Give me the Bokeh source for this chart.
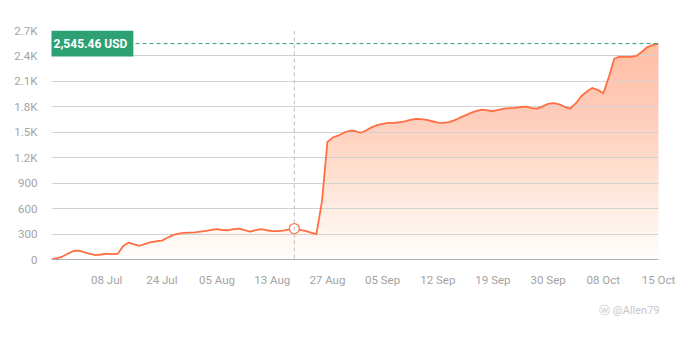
import numpy as np
from bokeh.plotting import figure
from bokeh.models import Range1d, FixedTicker, Span, Label, Title
from bokeh.embed import file_html
from bokeh.resources import INLINE

# ---- data (index-based x, labels every 10 points) ----
values = [0, 15, 35, 70, 100, 105, 85, 65, 51, 59,
          70, 63, 68, 160, 200, 178, 162, 184, 205, 215,
          222, 256, 288, 305, 315, 318, 320, 328, 337, 350,
          357, 348, 345, 358, 363, 345, 330, 345, 357, 345,
          335, 336, 340, 352, 365, 350, 338, 318, 298, 680,
          1385, 1440, 1462, 1495, 1518, 1515, 1494, 1520, 1558, 1585,
          1600, 1610, 1612, 1618, 1628, 1645, 1658, 1655, 1645, 1630,
          1615, 1610, 1620, 1640, 1672, 1700, 1728, 1752, 1768, 1758,
          1748, 1765, 1780, 1785, 1788, 1798, 1803, 1785, 1778, 1805,
          1835, 1845, 1830, 1800, 1780, 1840, 1925, 1980, 2022, 2000,
          1960, 2150, 2370, 2393, 2390, 2388, 2400, 2450, 2505, 2530,
          2545.46]
x_tick_labels = ["08 Jul", "24 Jul", "05 Aug", "13 Aug", "27 Aug", "05 Sep",
                 "12 Sep", "19 Sep", "30 Sep", "08 Oct", "15 Oct"]
x_tick_pos = [10, 20, 30, 40, 50, 60, 70, 80, 90, 100, 110]
y_ticks = [0, 300, 600, 900, 1200, 1500, 1800, 2100, 2400, 2700]
y_tick_labels = ["0", "300", "600", "900", "1.2K", "1.5K", "1.8K", "2.1K", "2.4K", "2.7K"]
hover_index = 44
currency = "USD"
watermark = "@Allen79"

x = np.arange(len(values))
v = np.array(values, dtype=float)

LINE = "#ff6f42"
FILL = "#ff8f66"
GREEN = "#2ea174"
GRAY_TXT = "#a3a3a3"
FONT = "Roboto"

p = figure(width=678, height=340, output_backend="svg", toolbar_location=None,
           x_range=Range1d(0, len(values) - 1), y_range=Range1d(0, 2700),
           min_border_left=51, min_border_right=20, min_border_top=30,
           min_border_bottom=81, outline_line_color=None)
p.background_fill_color = "white"
p.border_fill_color = "white"

# gradient-like fill: stacked translucent layers
n_layers = 40
a = 0.021
for k in range(n_layers):
    lo = 2700.0 * k / n_layers
    y1 = np.minimum(v, lo)
    p.varea(x=x, y1=y1, y2=v, fill_color=FILL, fill_alpha=a, level="underlay")

p.line(x, v, line_color=LINE, line_width=1.8, line_join="round")

# crosshair
p.add_layout(Span(location=hover_index, dimension="height", line_color="#bdbdbd",
                  line_dash="4 3", line_width=1))
p.scatter([x[hover_index]], [v[hover_index]], size=10, marker="circle",
          fill_color="white", line_color=LINE, line_width=1.2)

# last-value line + label
p.add_layout(Span(location=v[-1], dimension="width", line_color=GREEN,
                  line_dash="4 3", line_width=1))
p.add_layout(Label(x=-0.72, y=v[-1], text=f"{v[-1]:,.2f} {currency}",
                   text_font=FONT, text_font_style="bold", text_font_size="12px",
                   text_color="white", text_baseline="middle", text_align="left",
                   background_fill_color=GREEN, padding=6, level="overlay"))

# watermark below the axis
p.add_layout(Title(text="\u24e6 " + watermark, align="right", text_font=FONT,
                   text_font_size="11px", text_font_style="normal",
                   text_color="#c8c8c8", standoff=24, offset=-1), "below")

# axes
p.xaxis.ticker = FixedTicker(ticks=x_tick_pos)
p.xaxis.major_label_overrides = {t: l for t, l in zip(x_tick_pos, x_tick_labels)}
p.yaxis.ticker = FixedTicker(ticks=y_ticks)
p.yaxis.major_label_overrides = {t: l for t, l in zip(y_ticks, y_tick_labels)}
for ax in (p.xaxis, p.yaxis):
    ax.major_tick_line_color = None
    ax.minor_tick_line_color = None
    ax.major_label_text_color = GRAY_TXT
    ax.major_label_text_font = FONT
    ax.major_label_text_font_size = "11.5px"
p.yaxis.axis_line_color = None
p.yaxis.major_label_standoff = 8
p.xaxis.axis_line_color = "#b0b0b0"
p.xaxis.axis_line_width = 1
p.xaxis.major_label_standoff = 7

p.xgrid.grid_line_color = None
p.ygrid.grid_line_color = "#d2d2d2"
p.ygrid.grid_line_width = 1

open("out.html", "w").write(file_html(p, INLINE))
